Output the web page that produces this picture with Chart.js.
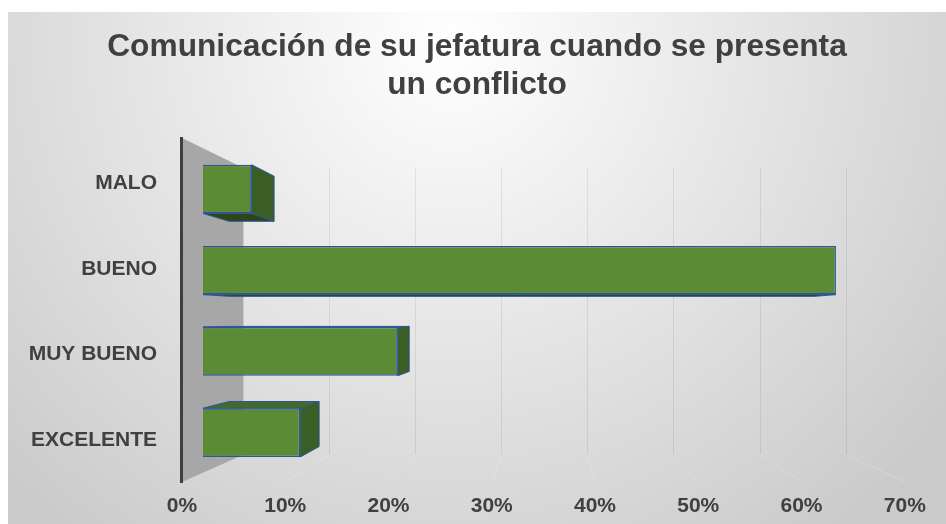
<!DOCTYPE html>
<html>
<head>
<meta charset="utf-8">
<script src="https://cdn.jsdelivr.net/npm/chart.js@4/dist/chart.umd.min.js"></script>
<style>
  html, body { margin: 0; padding: 0; background: #ffffff; }
  #wrap { width: 946px; height: 524px; }
</style>
</head>
<body>
<div id="wrap"><canvas id="chart" width="946" height="524"></canvas></div>
<script>
// Survey answers and their share of responses (percent)
const categories = ['MALO', 'BUENO', 'MUY BUENO', 'EXCELENTE'];
const shares = [5, 65, 20, 10];
const percentTicks = [0, 10, 20, 30, 40, 50, 60, 70];
const titleLines = ['Comunicación de su jefatura cuando se presenta', 'un conflicto'];

const FONT = "'Liberation Sans', Arial, Helvetica, sans-serif";
const TEXT = '#404040';

// Simple perspective model for the pseudo-3D look
const VX = 551, VY = 318;          // vanishing point
const BAR_DEPTH = 0.925;           // back face of a bar relative to its front face
const WALL_TOP = 138, WALL_BOTTOM = 482;

// range of the category-name axis (front plane, slightly wider than the bar plane)
const NAME_MIN = -0.4105, NAME_MAX = 3.3883;

function project(p, s) {
  return { x: VX + (p.x - VX) * s, y: VY + (p.y - VY) * s };
}

function poly(ctx, pts, fill, stroke) {
  ctx.beginPath();
  ctx.moveTo(pts[0].x, pts[0].y);
  for (let i = 1; i < pts.length; i++) ctx.lineTo(pts[i].x, pts[i].y);
  ctx.closePath();
  ctx.fillStyle = fill;
  ctx.fill();
  if (stroke) {
    ctx.strokeStyle = stroke;
    ctx.lineWidth = 1;
    ctx.stroke();
  }
}

const scene3d = {
  id: 'scene3d',
  beforeDraw(chart) {
    const ctx = chart.ctx;
    ctx.save();
    ctx.fillStyle = '#ffffff';
    ctx.fillRect(0, 0, chart.width, chart.height);
    const g = ctx.createRadialGradient(450, 40, 0, 450, 40, 620);
    g.addColorStop(0, '#ffffff');
    g.addColorStop(1, '#cbcbcb');
    ctx.fillStyle = g;
    ctx.fillRect(8, 12, chart.width - 8, chart.height - 12);
    ctx.restore();
  },
  beforeDatasetsDraw(chart) {
    const ctx = chart.ctx;
    const front = chart.scales.x2;   // floor front edge (labelled axis)
    const back = chart.scales.x3;    // back wall
    const xf0 = front.getPixelForValue(0);
    const xb0 = back.getPixelForValue(0);
    const sWall = (VX - xb0) / (VX - xf0);
    const backTop = VY + (WALL_TOP - VY) * sWall;
    const backBottom = VY + (WALL_BOTTOM - VY) * sWall;

    ctx.save();
    // back wall grid lines and their floor continuation
    ctx.lineWidth = 1;
    percentTicks.forEach(v => {
      if (v === 0) return;
      const xb = Math.round(back.getPixelForValue(v)) + 0.5;
      ctx.strokeStyle = 'rgba(0,0,0,0.075)';
      ctx.beginPath();
      ctx.moveTo(xb, backTop);
      ctx.lineTo(xb, backBottom);
      ctx.stroke();
      ctx.strokeStyle = 'rgba(255,255,255,0.18)';
      ctx.beginPath();
      ctx.moveTo(xb, backBottom);
      ctx.lineTo(front.getPixelForValue(v), WALL_BOTTOM);
      ctx.stroke();
    });

    // side wall
    poly(ctx, [
      { x: xf0, y: WALL_TOP }, { x: xb0, y: backTop },
      { x: xb0, y: backBottom }, { x: xf0, y: WALL_BOTTOM }
    ], '#a7a7a7');
    ctx.fillStyle = '#3f3f3f';
    ctx.fillRect(xf0 - 2, WALL_TOP - 1, 3, WALL_BOTTOM - WALL_TOP + 2);

    // depth faces of the bars
    const meta = chart.getDatasetMeta(0);
    meta.data.forEach(el => {
      const { x, y, base, height } = el.getProps(['x', 'y', 'base', 'height'], true);
      const x0 = Math.min(base, x), x1 = Math.max(base, x);
      const y0 = y - height / 2, y1 = y + height / 2;
      const edge = '#2f5597';
      if (y0 > VY) {
        const a = { x: x0, y: y0 }, b = { x: x1, y: y0 };
        poly(ctx, [a, b, project(b, BAR_DEPTH), project(a, BAR_DEPTH)], '#416b28', edge);
      }
      if (y1 < VY) {
        const a = { x: x0, y: y1 }, b = { x: x1, y: y1 };
        poly(ctx, [a, b, project(b, BAR_DEPTH), project(a, BAR_DEPTH)], '#2b461c', edge);
      }
      if (x1 < VX) {
        const a = { x: x1, y: y0 }, b = { x: x1, y: y1 };
        poly(ctx, [a, b, project(b, BAR_DEPTH), project(a, BAR_DEPTH)], '#3a5e24', edge);
      }
    });
    ctx.restore();
  }
};

new Chart(document.getElementById('chart'), {
  type: 'bar',
  data: {
    labels: categories,
    datasets: [{
      data: shares,
      xAxisID: 'x',
      yAxisID: 'y',
      backgroundColor: '#5b8b35',
      borderColor: '#2f5597',
      borderWidth: 1.5,
      barPercentage: 0.6,
      categoryPercentage: 1
    }]
  },
  options: {
    indexAxis: 'y',
    responsive: false,
    animation: false,
    devicePixelRatio: 1,
    layout: { padding: { left: 8, top: 12, right: 0, bottom: 0 } },
    plugins: {
      legend: { display: false },
      tooltip: { enabled: false },
      title: {
        display: true,
        text: titleLines,
        color: TEXT,
        font: { family: FONT, size: 31.7, weight: 'bold', lineHeight: 1.2 },
        padding: { top: 16, bottom: 44.4 }
      }
    },
    scales: {
      // bar front plane
      x: {
        type: 'linear', display: false, position: 'bottom',
        min: -2.150, max: 72.07
      },
      // labelled front edge of the floor
      x2: {
        type: 'linear', position: 'bottom', min: 0, max: 70, offset: false,
        grid: { display: false, drawTicks: false },
        border: { display: false },
        afterBuildTicks: s => { s.ticks = percentTicks.map(v => ({ value: v })); },
        afterFit: s => { s.height = 50.8; },
        ticks: {
          padding: 20.2,
          color: TEXT,
          font: { family: FONT, size: 21, weight: 'bold' },
          callback: v => v + '%'
        }
      },
      // back wall plane
      x3: {
        type: 'linear', display: false, position: 'bottom',
        min: -7.139, max: 76.89
      },
      // bar categories
      y: {
        type: 'category', position: 'right', offset: true,
        grid: { display: false, drawTicks: false },
        border: { display: false },
        ticks: { display: false },
        afterFit: s => { s.width = 39; }
      },
      // category names on the front plane
      y2: {
        type: 'linear', position: 'left', reverse: true, offset: false,
        min: NAME_MIN, max: NAME_MAX,
        grid: { display: false, drawTicks: false, offset: false },
        border: { display: false },
        afterBuildTicks: s => { s.ticks = categories.map((c, i) => ({ value: i })); },
        afterFit: s => { s.width = 174; },
        ticks: {
          padding: 25,
          color: TEXT,
          font: { family: FONT, size: 21, weight: 'bold' },
          callback: v => categories[Math.round(v)]
        }
      }
    }
  },
  plugins: [scene3d]
});
</script>
</body>
</html>
